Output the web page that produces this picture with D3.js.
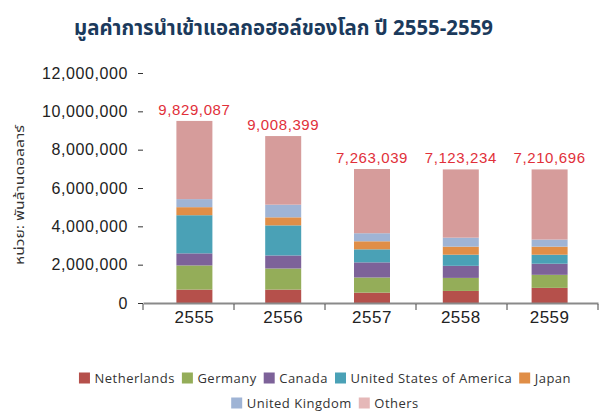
<!DOCTYPE html>
<html><head><meta charset="utf-8">
<script src="https://cdn.jsdelivr.net/npm/d3@7"></script>
<style>body{margin:0;background:#fff}svg{display:block}</style>
</head><body>
<svg id="c" width="600" height="412"></svg>
<script>
const years = ["2555","2556","2557","2558","2559"];
const seriesNames = ["Netherlands","Germany","Canada","United States of America","Japan","United Kingdom","Others"];
const netherlands = [0.70,0.70,0.54,0.63,0.79];
const germany     = [1.26,1.10,0.79,0.68,0.68];
const canada      = [0.63,0.68,0.79,0.63,0.58];
const usa         = [1.99,1.57,0.68,0.58,0.47];
const japan       = [0.42,0.42,0.42,0.42,0.42];
const uk          = [0.42,0.66,0.42,0.47,0.37];
const others      = [4.08,3.58,3.35,3.56,3.66];
const totalLabels = ["9,829,087","9,008,399","7,263,039","7,123,234","7,210,696"];
const yTicks = [0,2000000,4000000,6000000,8000000,10000000,12000000];
const title = "มูลค่าการนำเข้าแอลกอฮอล์ของโลก ปี 2555-2559";
const yTitle = "หน่วย: พันล้านดอลลาร์";

const colors = ["#b5504b","#94ad59","#7d6299","#4aa1b6","#e08e47","#9fb4d5","#d69c9b"];
const legendColors = ["#b5504b","#94ad59","#7d6299","#4aa1b6","#e08e47","#9fb4d5","#e5b8b8"];
const seriesVals = [netherlands,germany,canada,usa,japan,uk,others];

const rows = years.map((y,i)=>{const r={year:y}; seriesNames.forEach((s,k)=>r[s]=seriesVals[k][i]*1e6); return r;});
const stack = d3.stack().keys(seriesNames)(rows);

const svg = d3.select("#c");
const font = "'Liberation Sans', Arial, sans-serif";
const thaiFont = "'Noto Sans Thai','Noto Sans Thai UI','Loma','Garuda','Noto Sans',sans-serif";
const y = d3.scaleLinear().domain([0,12000000]).range([303,73]);
const xb = d3.scaleBand().domain(years).range([150,594]);
const xt = d3.scaleBand().domain(years).range([143,598]);
const bw = 36;
const cx = d => xb(d)+xb.bandwidth()/2;

// title
svg.append("text").attr("x",283.5).attr("y",35).attr("text-anchor","middle")
  .attr("fill","#1b3a5c").attr("font-size",21).attr("font-weight","bold")
  .attr("font-family",thaiFont)
  .attr("textLength",419).attr("lengthAdjust","spacingAndGlyphs")
  .text(title);

// y axis title
svg.append("text").attr("transform","translate(24,195) rotate(-90)").attr("text-anchor","middle")
  .attr("fill","#333").attr("font-size",13)
  .attr("font-family",thaiFont)
  .attr("textLength",140).attr("lengthAdjust","spacingAndGlyphs").text(yTitle);

// y axis
const ya = svg.append("g").attr("transform","translate(143,0)")
  .call(d3.axisLeft(y).tickValues(yTicks).tickSize(5).tickPadding(10).tickFormat(d3.format(",")));
ya.select(".domain").remove();
ya.selectAll("line").attr("stroke","#333");
ya.selectAll("text").attr("font-size",16).attr("font-family",font).attr("fill","#222").attr("letter-spacing","0.6");

// bars
svg.append("g").selectAll("g").data(stack).join("g").attr("fill",(d,i)=>colors[i])
  .selectAll("rect").data(d=>d).join("rect")
  .attr("x",d=>cx(d.data.year)-bw/2).attr("width",bw)
  .attr("y",d=>y(d[1])).attr("height",d=>y(d[0])-y(d[1]));

// x axis
const xa = svg.append("g").attr("transform","translate(0,303)")
  .call(d3.axisBottom(xt).tickValues([]).tickSizeOuter(0));
xa.select(".domain").attr("stroke","#8a8a8a").attr("stroke-width",2);
const bounds = years.map(d=>xt(d)).concat([xt.range()[1]]);
svg.append("g").selectAll("line").data(bounds).join("line")
  .attr("x1",d=>d).attr("x2",d=>d).attr("y1",304).attr("y2",310).attr("stroke","#444");
svg.append("g").selectAll("text").data(years).join("text")
  .attr("x",d=>cx(d)).attr("y",323).attr("text-anchor","middle")
  .attr("font-size",17).attr("font-family",font).attr("fill","#222").attr("letter-spacing","0.5").text(d=>d);

// total labels
const topLayer = stack[stack.length-1];
svg.append("g").selectAll("text").data(topLayer).join("text")
  .attr("x",d=>cx(d.data.year)).attr("y",d=>y(d[1])-6).attr("text-anchor","middle")
  .attr("font-size",15).attr("font-family",font).attr("fill","#e1303a").attr("letter-spacing","0.6")
  .text((d,i)=>totalLabels[i]);

// legend
const lfont = "'Open Sans','Noto Sans',sans-serif";
const legRows = [[0,1,2,3,4],[5,6]];
const legY = [378,403];
legRows.forEach((r,ri)=>{
  const g = svg.append("g");
  let xpos = 0;
  r.forEach(k=>{
    const it = g.append("g").attr("transform",`translate(${xpos},0)`);
    it.append("rect").attr("x",0).attr("y",-5.5).attr("width",11).attr("height",11).attr("fill",legendColors[k]);
    const t = it.append("text").attr("x",15.5).attr("y",5).attr("font-size",13).attr("font-family",lfont)
      .attr("fill","#333").attr("letter-spacing","0.5").text(seriesNames[k]);
    xpos += 15.5 + t.node().getComputedTextLength() + 7;
  });
  const w = xpos - 7;
  g.attr("transform",`translate(${325 - w/2},${legY[ri]})`);
});
</script>
</body></html>
